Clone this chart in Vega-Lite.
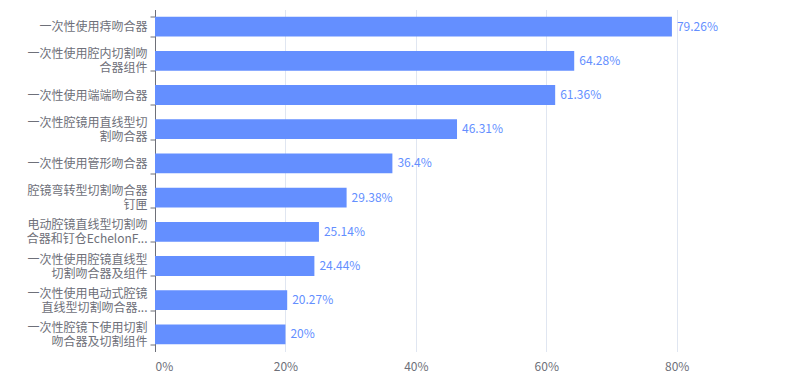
{
  "$schema": "https://vega.github.io/schema/vega-lite/v6.json",
  "autosize": "none",
  "width": 600,
  "height": 342,
  "padding": {"left": 155, "top": 9.5, "right": 46, "bottom": 33},
  "background": "white",
  "config": {"view": {"stroke": null}, "font": "Noto Sans CJK SC"},
  "data": {
    "values": [
      {"name": "一次性使用痔吻合器", "v": 0.7926},
      {"name": "一次性使用腔内切割吻|合器组件", "v": 0.6428},
      {"name": "一次性使用端端吻合器", "v": 0.6136},
      {"name": "一次性腔镜用直线型切|割吻合器", "v": 0.4631},
      {"name": "一次性使用管形吻合器", "v": 0.364},
      {"name": "腔镜弯转型切割吻合器|钉匣", "v": 0.2938},
      {"name": "电动腔镜直线型切割吻|合器和钉仓EchelonF...", "v": 0.2514},
      {"name": "一次性使用腔镜直线型|切割吻合器及组件", "v": 0.2444},
      {"name": "一次性使用电动式腔镜|直线型切割吻合器...", "v": 0.2027},
      {"name": "一次性腔镜下使用切割|吻合器及切割组件", "v": 0.2}
    ]
  },
  "encoding": {
    "y": {
      "field": "name",
      "type": "nominal",
      "sort": null,
      "scale": {"paddingInner": 0.42, "paddingOuter": 0.21},
      "axis": {
        "title": null,
        "labelExpr": "datum.value ? split(datum.value, '|') : ''",
        "labelOffset": {"condition": {"test": "datum.value && indexof(datum.value, '|') >= 0", "value": -7}, "value": 0},
        "labelLimit": 300,
        "labelFontSize": 12,
        "labelColor": "#6E7079",
        "labelLineHeight": 14,
        "labelPadding": 3,
        "tickBand": "extent",
        "tickSize": 5,
        "tickColor": "#6E7079",
        "domainColor": "#6E7079",
        "grid": false
      }
    },
    "x": {
      "field": "v",
      "type": "quantitative",
      "scale": {"domain": [0, 0.92], "nice": false},
      "axis": {
        "title": null,
        "format": ".0%",
        "values": [0, 0.2, 0.4, 0.6, 0.8],
        "domain": false,
        "ticks": false,
        "labelColor": "#6E7079",
        "labelFontSize": 12,
        "labelPadding": 10,
        "gridColor": "#E0E6F1",
        "gridOpacity": 1
      }
    }
  },
  "layer": [
    {"mark": {"type": "bar", "color": "#648FFF"}},
    {
      "mark": {"type": "text", "align": "left", "dx": 5, "color": "#648FFF", "fontSize": 12},
      "encoding": {"text": {"field": "v", "type": "quantitative", "format": ".2~%"}}
    }
  ]
}
